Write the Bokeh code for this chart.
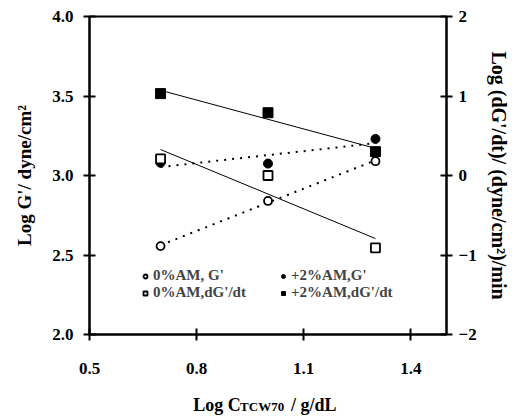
import numpy as np
from bokeh.plotting import figure
from bokeh.layouts import column
from bokeh.core.properties import value
from bokeh.models import (Range1d, LinearAxis, FixedTicker, Legend, LegendItem,
                          PrintfTickFormatter)
from bokeh.embed import file_html
from bokeh.resources import INLINE

# log concentration of TCW70 (g/dL)
log_conc = [0.699, 1.000, 1.301]
# log G' (dyne/cm^2), left axis
g_0am = [2.556, 2.840, 3.090]
g_2am = [3.080, 3.075, 3.230]
# log dG'/dt ((dyne/cm^2)/min), right axis
rate_0am = [0.21, 0.00, -0.91]
rate_2am = [1.03, 0.79, 0.30]

x_ticks = [0.5, 0.8, 1.1, 1.4]
g_ticks = [2.0, 2.5, 3.0, 3.5, 4.0]
rate_ticks = [-2, -1, 0, 1, 2]

labels = ["0%AM, G'", "+2%AM,G'", "0%AM,dG'/dt", "+2%AM,dG'/dt"]

FONT = "Liberation Serif"
W = 512
TITLE_H = 31
LEFT, RIGHT = 89, 58

p = figure(width=W, height=416 - TITLE_H, x_range=Range1d(0.5, 1.5), y_range=Range1d(2.0, 4.0),
           output_backend="svg", toolbar_location=None,
           min_border_left=LEFT, min_border_right=RIGHT, min_border_top=16,
           min_border_bottom=416 - TITLE_H - 334)
p.extra_y_ranges = {"rate": Range1d(-2, 2)}
p.grid.visible = False
p.outline_line_color = "black"
p.outline_line_width = 2
p.background_fill_color = "white"
p.border_fill_color = "white"


def style_axis(ax, standoff):
    ax.axis_line_width = 2
    ax.axis_line_color = "black"
    ax.major_tick_in = 6
    ax.major_tick_out = 6
    ax.major_tick_line_width = 2
    ax.minor_tick_line_color = None
    ax.major_label_text_font = FONT
    ax.major_label_text_font_style = "bold"
    ax.major_label_text_font_size = "17px"
    ax.major_label_text_color = "black"
    ax.major_label_standoff = standoff
    ax.axis_label_text_font = FONT
    ax.axis_label_text_font_style = "bold"
    ax.axis_label_text_font_size = "19px"
    ax.axis_label_text_color = "black"


xa = p.xaxis[0]
style_axis(xa, 22)
xa.ticker = FixedTicker(ticks=x_ticks)
xa.formatter = PrintfTickFormatter(format="%.1f")

ya = p.yaxis[0]
style_axis(ya, 10)
ya.ticker = FixedTicker(ticks=g_ticks)
ya.formatter = PrintfTickFormatter(format="%.1f")
ya.axis_label = "Log G'/ dyne/cm\u00b2"
ya.axis_label_standoff = 14

ra = LinearAxis(y_range_name="rate", ticker=FixedTicker(ticks=rate_ticks))
style_axis(ra, 6)
ra.axis_label = "Log (dG'/dt)/ (dyne/cm\u00b2)/min"
ra.axis_label_text_font_size = "20px"
ra.axis_label_standoff = 8
p.add_layout(ra, "right")

# least-squares trend lines through each series
xs_fit = np.array([log_conc[0], log_conc[-1]])


def trend(y):
    k, b = np.polyfit(log_conc, y, 1)
    return k * xs_fit + b


p.line(xs_fit, trend(g_0am), line_color="black", line_width=2, line_dash="2 6")
p.line(xs_fit, trend(g_2am), line_color="black", line_width=2, line_dash="2 6")
p.line(xs_fit, trend(rate_0am), line_color="black", line_width=1, y_range_name="rate")
p.line(xs_fit, trend(rate_2am), line_color="black", line_width=1, y_range_name="rate")

r_g0 = p.scatter(log_conc, g_0am, marker="circle", size=8, line_color="black",
                 line_width=1.8, fill_color="white")
r_g2 = p.scatter(log_conc, g_2am, marker="circle", size=9, line_color="black",
                 fill_color="black")
r_r0 = p.scatter(log_conc, rate_0am, marker="square", size=9, line_color="black",
                 line_width=1.8, fill_color="white", y_range_name="rate")
r_r2 = p.scatter(log_conc, rate_2am, marker="square", size=10, line_color="black",
                 fill_color="black", y_range_name="rate")

# two-column legend, filled column by column
legend = Legend(items=[LegendItem(label=labels[0], renderers=[r_g0]),
                       LegendItem(label=labels[2], renderers=[r_r0]),
                       LegendItem(label=labels[1], renderers=[r_g2]),
                       LegendItem(label=labels[3], renderers=[r_r2])],
                ncols=2, location=(51, 33), border_line_color=None,
                background_fill_alpha=0, padding=0, margin=0, spacing=0,
                glyph_width=10, glyph_height=14, label_height=14, label_width=125,
                label_standoff=3, label_text_font=FONT, label_text_font_style="bold",
                label_text_font_size="15px")
p.add_layout(legend, "center")

# strip beneath the chart carrying the x axis title (with subscript);
# its frame lines up with the chart's, so x is given in page pixels
t = figure(width=W, height=TITLE_H, x_range=Range1d(LEFT, W - RIGHT),
           y_range=Range1d(0, TITLE_H), output_backend="svg", toolbar_location=None,
           min_border_left=LEFT, min_border_right=RIGHT, min_border_top=0,
           min_border_bottom=0, x_axis_location=None, y_axis_location=None)
t.grid.visible = False
t.outline_line_color = None
t.border_fill_color = "white"
t.background_fill_color = "white"
txt = dict(text_font=value(FONT), text_font_style="bold", text_color="black",
           text_baseline="alphabetic", text_align="left")
t.text(x=[195], y=[12], text=["Log C"], text_font_size="18px", **txt)
t.text(x=[243], y=[10], text=["TCW70"], text_font_size="13px", **txt)
t.text(x=[295], y=[12], text=["/ g/dL"], text_font_size="18px", **txt)

layout = column(p, t, spacing=0)
open("out.html", "w").write(file_html(layout, INLINE))
